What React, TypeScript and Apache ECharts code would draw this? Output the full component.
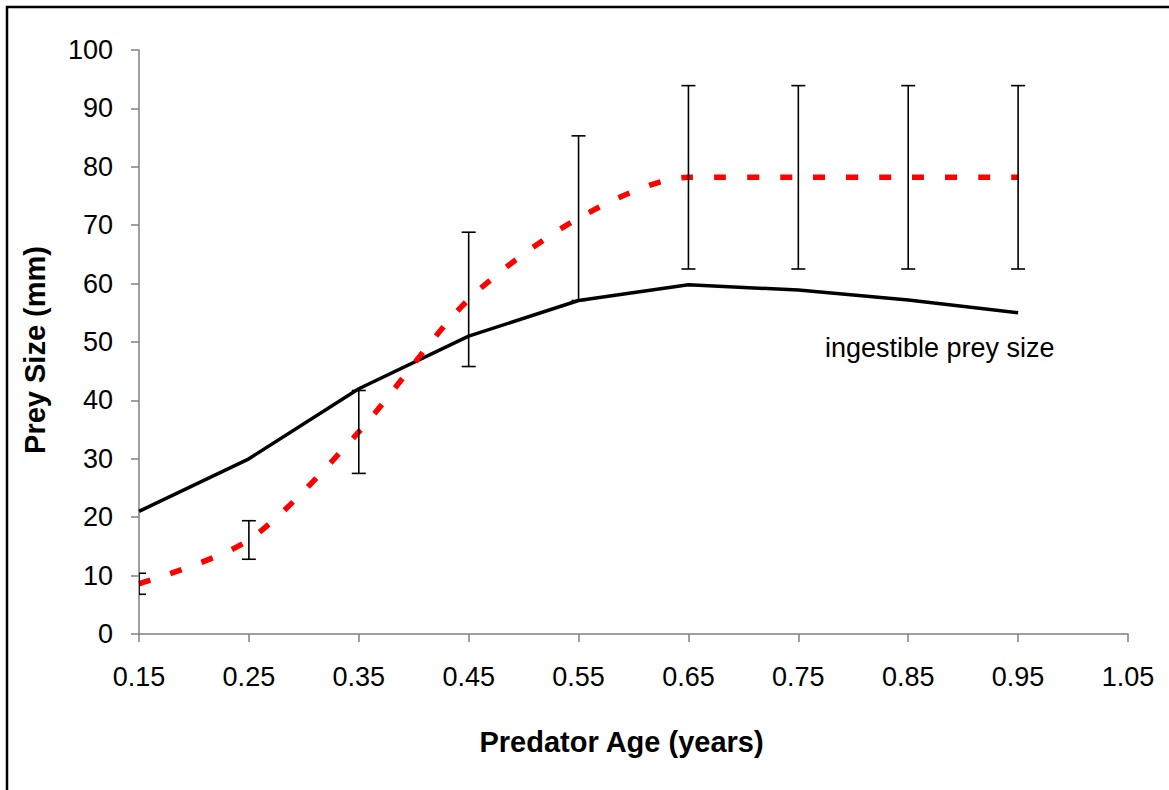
import React, { useEffect, useRef } from "react";
import * as echarts from "echarts";

// Predator age categories (years) along the x-axis
const ageLabels = ["0.15", "0.25", "0.35", "0.45", "0.55", "0.65", "0.75", "0.85", "0.95", "1.05"];
// Largest prey a predator of each age can swallow (mm)
const ingestibleSize = [21, 30, 42, 51, 57.1, 59.8, 58.9, 57.2, 55];
// Mean prey size actually eaten (mm) and its error half-width
const observedSize = [8.6, 16.1, 34.6, 57.3, 71.2, 78.2, 78.2, 78.2, 78.2];
const observedError = [1.8, 3.3, 7.1, 11.5, 14.1, 15.7, 15.7, 15.7, 15.7];
// Y-axis range
const yMin = 0;
const yMax = 100;
const yStep = 10;

const FONT = 'Arial, "Liberation Sans", sans-serif';

export default function App() {
  const ref = useRef<HTMLDivElement>(null);

  useEffect(() => {
    if (!ref.current) return;
    const chart = echarts.init(ref.current, null, { renderer: "svg" });

    const errorData = observedSize.map((v, i) => [i, v - observedError[i], v + observedError[i]]);

    chart.setOption({
      animation: false,
      backgroundColor: "#ffffff",
      grid: { left: 139, right: 41, top: 50, bottom: 156, containLabel: false },
      xAxis: {
        type: "category",
        data: ageLabels,
        boundaryGap: false,
        name: "Predator Age (years)",
        nameLocation: "middle",
        nameGap: 93,
        nameTextStyle: {
          fontFamily: FONT,
          fontSize: 29,
          fontWeight: "bold",
          color: "#000",
          padding: [0, 24, 0, 0],
        },
        axisLine: { show: true, lineStyle: { color: "#808080", width: 1.5 } },
        axisTick: { show: true, inside: false, length: 8, interval: 0, lineStyle: { color: "#808080", width: 1.5 } },
        axisLabel: { interval: 0, margin: 29, fontFamily: FONT, fontSize: 27, color: "#000" },
        splitLine: { show: false },
      },
      yAxis: {
        type: "value",
        min: yMin,
        max: yMax,
        interval: yStep,
        name: "Prey Size (mm)",
        nameLocation: "middle",
        nameGap: 90,
        nameRotate: 90,
        nameTextStyle: {
          fontFamily: FONT,
          fontSize: 29,
          fontWeight: "bold",
          color: "#000",
          padding: [0, 16, 0, 0],
        },
        axisLine: { show: true, lineStyle: { color: "#808080", width: 1.5 } },
        axisTick: { show: true, inside: false, length: 8, lineStyle: { color: "#808080", width: 1.5 } },
        axisLabel: { margin: 26, fontFamily: FONT, fontSize: 27, color: "#000" },
        splitLine: { show: false },
      },
      series: [
        {
          name: "ingestible prey size",
          type: "line",
          data: ingestibleSize,
          showSymbol: false,
          lineStyle: { color: "#000", width: 3.5 },
          z: 2,
        },
        {
          name: "observed prey size",
          type: "line",
          data: observedSize,
          smooth: 0.28,
          showSymbol: false,
          lineStyle: { color: "#ff0000", width: 5.5, type: [12, 21] },
          z: 3,
        },
        {
          name: "error",
          type: "custom",
          data: errorData,
          encode: { x: 0, y: [1, 2] },
          clip: true,
          z: 4,
          renderItem: (params: any, api: any) => {
            const idx = api.value(0);
            const top = api.coord([idx, api.value(2)]);
            const bot = api.coord([idx, api.value(1)]);
            const half = 7;
            const style = { stroke: "#000", lineWidth: 1.6 };
            return {
              type: "group",
              children: [
                { type: "line", shape: { x1: top[0], y1: top[1], x2: bot[0], y2: bot[1] }, style },
                { type: "line", shape: { x1: top[0] - half, y1: top[1], x2: top[0] + half, y2: top[1] }, style },
                { type: "line", shape: { x1: bot[0] - half, y1: bot[1], x2: bot[0] + half, y2: bot[1] }, style },
              ],
            };
          },
        },
      ],
      graphic: [
        {
          type: "rect",
          silent: true,
          shape: { x: 7, y: 7, width: 1200, height: 820 },
          style: { fill: "none", stroke: "#000", lineWidth: 2.5 },
        },
        {
          type: "text",
          silent: true,
          x: 825,
          y: 348,
          style: {
            text: "ingestible prey size",
            fontFamily: FONT,
            fontSize: 27,
            fill: "#000",
            verticalAlign: "middle",
            align: "left",
          },
        },
      ],
    });

    return () => chart.dispose();
  }, []);

  return (
    <div
      ref={ref}
      style={{ position: "absolute", left: 0, top: 0, width: 1169, height: 790 }}
    />
  );
}
